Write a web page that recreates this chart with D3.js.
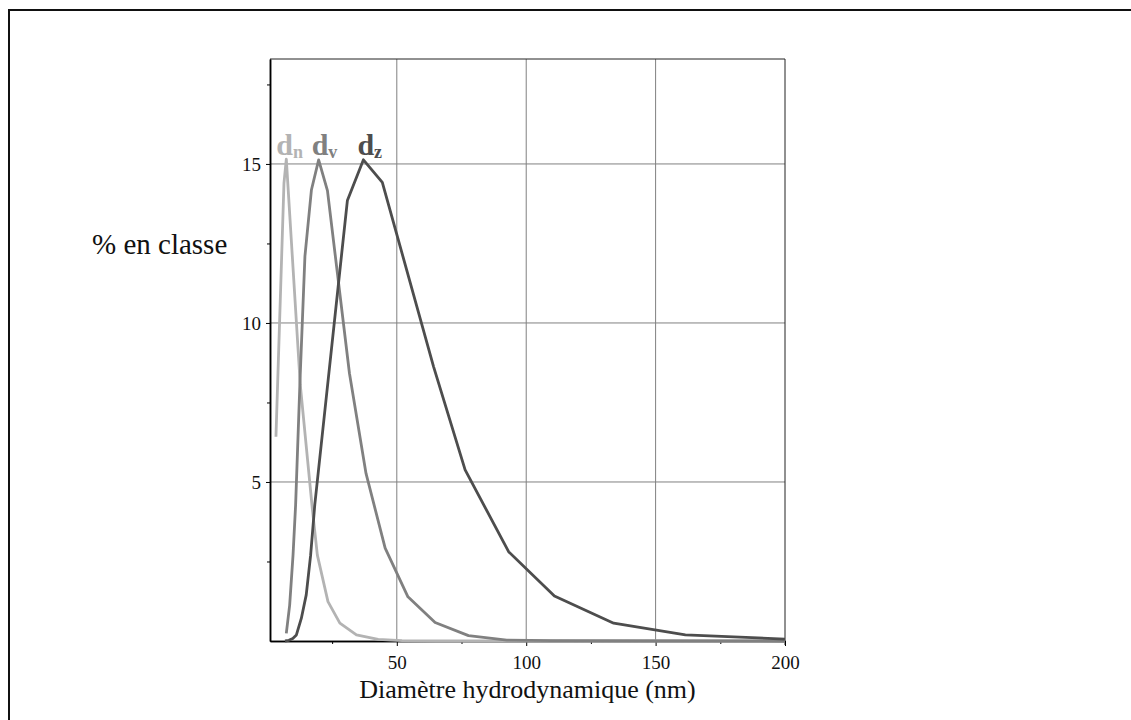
<!DOCTYPE html>
<html>
<head>
<meta charset="utf-8">
<script src="https://cdn.jsdelivr.net/npm/d3@7"></script>
<style>
  body { margin: 0; background: #fff; }
  svg { display: block; font-family: "Liberation Serif", "Times New Roman", serif; }
</style>
</head>
<body>
<div id="chart"></div>
<script>
// size distributions: hydrodynamic diameter (nm) vs % in class
const dnX = [3.3, 6.4, 7.3, 12.7, 17.4, 19.3, 23.4, 28.0, 34.4, 42.8, 52, 65, 200];
const dnY = [6.42, 14.4, 15.15, 8.05, 4.12, 2.7, 1.24, 0.56, 0.19, 0.05, 0.01, 0, 0];

const dvX = [7.3, 8.6, 9.9, 10.9, 12.6, 14.5, 17.0, 19.8, 23.2, 31.7, 38.1, 45.5, 54.3, 64.8, 77.7, 92.5, 110, 200];
const dvY = [0.24, 1.13, 2.7, 4.28, 8.2, 12.1, 14.18, 15.13, 14.16, 8.42, 5.27, 2.92, 1.39, 0.58, 0.17, 0.03, 0.01, 0];

const dzX = [6.8, 8.3, 9.8, 11.2, 13.1, 15.0, 16.7, 18.3, 30.9, 37.1, 44.4, 64.2, 76.4, 93.2, 110.9, 133.8, 161.5, 200];
const dzY = [0, 0.02, 0.08, 0.19, 0.71, 1.45, 2.7, 4.28, 13.85, 15.13, 14.42, 8.63, 5.38, 2.81, 1.415, 0.56, 0.19, 0.06];

const seriesNames = ['n', 'v', 'z'];
const seriesColors = ['#b3b3b3', '#808080', '#4d4d4d'];
const labelDx = [-10, -7, -6];

const yTicks = [5, 10, 15];
const yMinorTicks = [2.5, 7.5, 12.5, 17.5];
const xTicks = [50, 100, 150, 200];
const xMinorTicks = [25, 75, 125, 175];

const yLabel = '% en classe';
const xLabel = 'Diamètre hydrodynamique (nm)';

const w = 1131;
const h = 720;
const mLeft = 270, mRight = 785, mTop = 59, mBottom = 641;

const series = [[dnX, dnY], [dvX, dvY], [dzX, dzY]].map((s, i) => ({
  name: seriesNames[i],
  color: seriesColors[i],
  points: s[0].map((x, j) => ({x: x, y: s[1][j]}))
}));

const xScale = d3.scaleLinear().domain([1, 200]).range([mLeft, mRight]);
const yScale = d3.scaleLinear().domain([0, 18.3]).range([mBottom, mTop]);

const svg = d3.select('#chart')
              .append('svg')
              .attr('width', w)
              .attr('height', h);

//outer frame
svg.append('path')
   .attr('d', `M9,${h} V10 H${w}`)
   .attr('fill', 'none')
   .attr('stroke', '#111')
   .attr('stroke-width', 2);

//grid
svg.append('g')
   .selectAll('line')
   .data(xTicks.filter(d => d < 200))
   .enter()
   .append('line')
   .attr('x1', d => xScale(d)).attr('x2', d => xScale(d))
   .attr('y1', mTop).attr('y2', mBottom)
   .attr('stroke', '#808080')
   .attr('stroke-width', 1);

svg.append('g')
   .selectAll('line')
   .data(yTicks)
   .enter()
   .append('line')
   .attr('x1', mLeft).attr('x2', mRight)
   .attr('y1', d => yScale(d)).attr('y2', d => yScale(d))
   .attr('stroke', '#808080')
   .attr('stroke-width', 1);

//plot box top + right
svg.append('path')
   .attr('d', `M${mLeft},${mTop} H${mRight} V${mBottom + 4}`)
   .attr('fill', 'none')
   .attr('stroke', '#222')
   .attr('stroke-width', 1);

//axes
const yAxis = d3.axisLeft(yScale).tickValues(yTicks).tickSizeInner(4).tickSizeOuter(0).tickPadding(5);
const yMinor = d3.axisLeft(yScale).tickValues(yMinorTicks).tickSizeInner(3).tickSizeOuter(0).tickFormat('');
const xAxis = d3.axisBottom(xScale).tickValues(xTicks).tickSizeInner(5).tickSizeOuter(0).tickPadding(10);
const xMinor = d3.axisBottom(xScale).tickValues(xMinorTicks).tickSizeInner(3).tickSizeOuter(0).tickFormat('');

svg.append('g').attr('transform', `translate(${mLeft},0)`).call(yMinor);
svg.append('g').attr('transform', `translate(0,${mBottom})`).call(xMinor);

svg.append('g')
   .attr('id', 'y-axis')
   .attr('transform', `translate(${mLeft},0)`)
   .call(yAxis);

svg.append('g')
   .attr('id', 'x-axis')
   .attr('transform', `translate(0,${mBottom})`)
   .call(xAxis);

svg.selectAll('.domain').attr('stroke', '#000').attr('stroke-width', 1.5);
svg.selectAll('.tick text')
   .style('font-family', '"Liberation Serif", serif')
   .style('font-size', '19px')
   .attr('fill', '#111');

//curves
svg.append('clipPath')
   .attr('id', 'clip')
   .append('rect')
   .attr('x', mLeft).attr('y', mTop)
   .attr('width', mRight - mLeft).attr('height', mBottom - mTop + 3);

const line = d3.line()
               .x(d => xScale(d.x))
               .y(d => yScale(d.y));

svg.append('g')
   .attr('clip-path', 'url(#clip)')
   .selectAll('path')
   .data(series)
   .enter()
   .append('path')
   .attr('d', d => line(d.points))
   .attr('fill', 'none')
   .attr('stroke', d => d.color)
   .attr('stroke-width', 2.8)
   .attr('stroke-linejoin', 'round');

//series labels (d_n, d_v, d_z) above each peak
series.forEach((s, i) => {
  const peak = s.points[d3.maxIndex(s.points, d => d.y)];
  const t = svg.append('text')
               .attr('x', xScale(peak.x) + labelDx[i])
               .attr('y', yScale(15.28))
               .attr('fill', s.color)
               .style('font-weight', 'bold')
               .style('font-size', '30px');
  t.append('tspan').text('d');
  t.append('tspan')
   .attr('dy', 3)
   .style('font-size', '18px')
   .text(s.name);
});

//axis labels
svg.append('text')
   .attr('x', 92)
   .attr('y', 254)
   .style('font-size', '29px')
   .attr('fill', '#111')
   .text(yLabel);

svg.append('text')
   .attr('x', (mLeft + mRight) / 2)
   .attr('y', 698)
   .attr('text-anchor', 'middle')
   .style('font-size', '26px')
   .attr('fill', '#111')
   .text(xLabel);
</script>
</body>
</html>
